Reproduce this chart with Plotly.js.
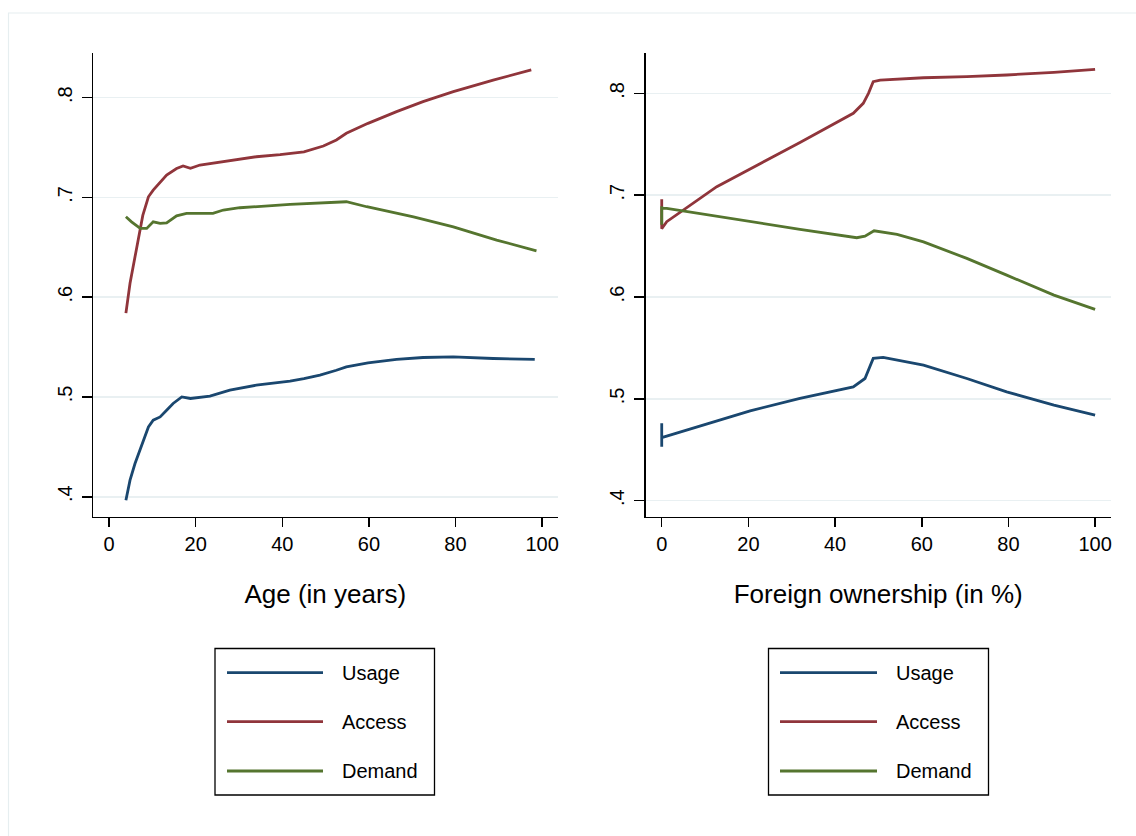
<!DOCTYPE html>
<html>
<head>
<meta charset="utf-8">
<script src="https://cdn.plot.ly/plotly-3.0.1.min.js"></script>
<style>html,body{margin:0;padding:0;background:#fff;}#chart{width:1136px;height:836px;}</style>
</head>
<body>
<div id="chart"></div>
<script>
// ---- Data ----
const seriesNames = ["Usage", "Access", "Demand"];
const seriesColors = ["#1a476f", "#90353b", "#55752f"];

// Left panel: Age (in years)
const ageUsageX  = [3.9, 4.85, 6, 7.9, 9.1, 10.2, 11.8, 13.3, 14.8, 16.8, 18.8, 23.3, 27.9, 34, 41.8, 45, 48.7, 52.5, 54.8, 59.8, 66.4, 72.5, 79.5, 88.7, 98.3];
const ageUsageY  = [0.3965, 0.4166, 0.4333, 0.4567, 0.470, 0.4767, 0.480, 0.4867, 0.4935, 0.500, 0.4985, 0.5008, 0.5068, 0.5118, 0.5160, 0.5185, 0.5219, 0.5268, 0.5302, 0.5342, 0.5376, 0.5396, 0.5402, 0.5386, 0.5376];
const ageAccessX = [3.9, 4.85, 6, 7.8, 9.1, 10.2, 13.3, 15.6, 17.1, 18.8, 21, 26.4, 34, 39.5, 45, 49.5, 52.5, 54.8, 59.8, 66.4, 72.5, 79.5, 88.7, 97.5];
const ageAccessY = [0.584, 0.614, 0.6405, 0.682, 0.7007, 0.7074, 0.7225, 0.729, 0.7315, 0.7292, 0.7325, 0.7358, 0.7408, 0.7430, 0.7458, 0.7516, 0.7576, 0.7643, 0.7743, 0.786, 0.796, 0.806, 0.8177, 0.8278];
const ageDemandX = [3.9, 5.2, 7.2, 8.7, 10.2, 11.8, 13.3, 15.6, 17.9, 24, 26.4, 30.2, 41.8, 47.2, 54.8, 59.5, 70.3, 79.5, 89.5, 98.7];
const ageDemandY = [0.6806, 0.6756, 0.669, 0.669, 0.6756, 0.674, 0.6746, 0.6816, 0.684, 0.684, 0.6874, 0.6897, 0.693, 0.694, 0.6957, 0.6907, 0.6806, 0.6706, 0.6573, 0.6465];

// Right panel: Foreign ownership (in %)
const forUsageX  = [0, 0, 0, 1.15, 20.4, 31.9, 44.2, 46.9, 48.8, 51.1, 60.4, 70.4, 79.6, 90.5, 100];
const forUsageY  = [0.453, 0.476, 0.462, 0.4635, 0.4882, 0.5004, 0.5118, 0.520, 0.5397, 0.5407, 0.5331, 0.520, 0.5069, 0.4938, 0.484];
const forAccessX = [0, 0, 1.15, 12.7, 31.9, 44.2, 46.5, 47.7, 48.8, 50.4, 60.4, 70.4, 79.6, 90.5, 100];
const forAccessY = [0.696, 0.667, 0.674, 0.7083, 0.7517, 0.7804, 0.7902, 0.800, 0.8114, 0.813, 0.8153, 0.8163, 0.818, 0.8206, 0.8236];
const forDemandX = [0, 0, 0, 1.15, 20.4, 31.9, 45, 46.9, 49, 54.3, 60.4, 70.4, 79.6, 90.5, 100];
const forDemandY = [0.671, 0.689, 0.687, 0.687, 0.6739, 0.6665, 0.6582, 0.6598, 0.665, 0.6615, 0.6542, 0.6379, 0.6215, 0.6019, 0.5878];

const xTickVals = [0, 20, 40, 60, 80, 100];
const yTickVals = [0.4, 0.5, 0.6, 0.7, 0.8];
const yTickText = [".4", ".5", ".6", ".7", ".8"];
const xTitles = ["Age (in years)", "Foreign ownership (in %)"];

// ---- Layout helpers ----
const W = 1136, H = 836;
const px = x => x / W;
const py = y => 1 - y / H;
const FONT = "Liberation Sans, Arial, Helvetica, sans-serif";

function tr(x, y, i, xa, ya) {
  return {x: x, y: y, type: "scatter", mode: "lines", name: seriesNames[i],
    xaxis: xa, yaxis: ya, showlegend: false,
    line: {color: seriesColors[i], width: 2.8}};
}
const data = [
  tr(ageUsageX, ageUsageY, 0, "x", "y"),
  tr(ageAccessX, ageAccessY, 1, "x", "y"),
  tr(ageDemandX, ageDemandY, 2, "x", "y"),
  tr(forUsageX, forUsageY, 0, "x2", "y2"),
  tr(forAccessX, forAccessY, 1, "x2", "y2"),
  tr(forDemandX, forDemandY, 2, "x2", "y2")
];

function xax(dom, anchor, title) {
  return {domain: dom, anchor: anchor, range: [-3.7, 103.6],
    tickvals: xTickVals, ticks: "outside", ticklen: 9, tickwidth: 1.5, tickcolor: "#000",
    showline: true, linecolor: "#000", linewidth: 1.5, showgrid: false, zeroline: false,
    tickfont: {family: FONT, size: 20, color: "#000"},
    title: {text: title, font: {family: FONT, size: 26, color: "#000"}, standoff: 30},
    automargin: true, fixedrange: true};
}
function yax(dom, anchor, range) {
  return {domain: dom, anchor: anchor, range: range,
    tickvals: yTickVals, ticktext: yTickText, tickangle: -90, ticklabelstandoff: 2,
    ticks: "outside", ticklen: 10, tickwidth: 1.5, tickcolor: "#000",
    showline: true, linecolor: "#000", linewidth: 1.5,
    showgrid: true, gridcolor: "#e9f0f2", gridwidth: 1.5, zeroline: false,
    tickfont: {family: FONT, size: 20, color: "#000"}, fixedrange: true};
}

const shapes = [
  // outer graph-region frame
  {type: "rect", xref: "paper", yref: "paper", x0: px(8.5), x1: px(1145), y0: py(845), y1: py(13),
   line: {color: "#e6eef0", width: 1.2}, layer: "below"}
];
const annotations = [];
const legends = [{left: 215, right: 434.5, lineX0: 227, lineX1: 323, textX: 340},
                 {left: 768.5, right: 988.5, lineX0: 780, lineX1: 877, textX: 894}];
const legendRowY = [672.7, 721.7, 771];
legends.forEach(L => {
  shapes.push({type: "rect", xref: "paper", yref: "paper", x0: px(L.left), x1: px(L.right),
    y0: py(795), y1: py(648.5), line: {color: "#000", width: 1.3}, fillcolor: "#fff"});
  seriesNames.forEach((n, i) => {
    shapes.push({type: "line", xref: "paper", yref: "paper", x0: px(L.lineX0), x1: px(L.lineX1),
      y0: py(legendRowY[i]), y1: py(legendRowY[i]), line: {color: seriesColors[i], width: 2.8}});
    annotations.push({xref: "paper", yref: "paper", x: px(L.textX), y: py(legendRowY[i]),
      xanchor: "left", yanchor: "middle", showarrow: false, text: n,
      font: {family: FONT, size: 20, color: "#000"}});
  });
});

const layout = {
  width: W, height: H, margin: {l: 0, r: 0, t: 0, b: 0},
  paper_bgcolor: "#fff", plot_bgcolor: "#fff", showlegend: false,
  xaxis: xax([px(93), px(557.7)], "y", xTitles[0]),
  yaxis: yax([py(516.7), py(53)], "x", [0.38, 0.8448]),
  xaxis2: xax([px(645.7), px(1110.7)], "y2", xTitles[1]),
  yaxis2: yax([py(516.7), py(53.3)], "x2", [0.3843, 0.8393]),
  shapes: shapes, annotations: annotations
};
Plotly.newPlot("chart", data, layout, {staticPlot: true, displayModeBar: false});
</script>
</body>
</html>
